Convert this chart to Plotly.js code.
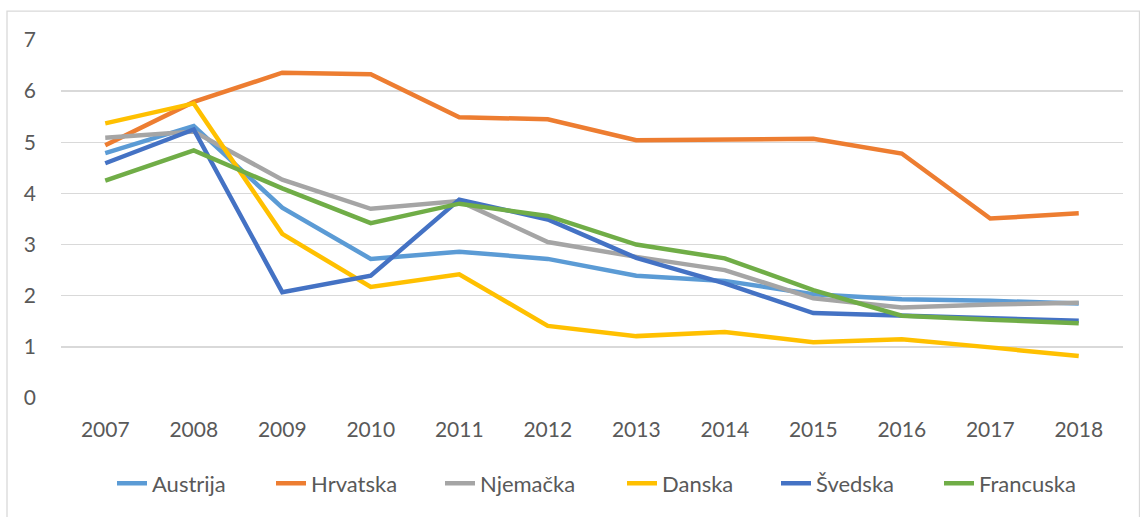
<!DOCTYPE html>
<html>
<head>
<meta charset="utf-8">
<script src="https://cdn.plot.ly/plotly-3.0.1.min.js"></script>
<style>html,body{margin:0;padding:0;background:#fff;}#chart{width:1140px;height:517px;}</style>
</head>
<body>
<div id="chart"></div>
<script>
const years = ['2007','2008','2009','2010','2011','2012','2013','2014','2015','2016','2017','2018'];
const austrija  = [4.79, 5.32, 3.72, 2.72, 2.86, 2.72, 2.39, 2.29, 2.03, 1.93, 1.90, 1.85];
const hrvatska  = [4.94, 5.79, 6.36, 6.33, 5.49, 5.45, 5.04, 5.05, 5.07, 4.78, 3.51, 3.61];
const njemacka  = [5.09, 5.21, 4.27, 3.70, 3.85, 3.05, 2.76, 2.50, 1.95, 1.77, 1.83, 1.86];
const danska    = [5.37, 5.76, 3.21, 2.17, 2.42, 1.41, 1.21, 1.29, 1.09, 1.15, 0.99, 0.82];
const svedska   = [4.59, 5.25, 2.07, 2.39, 3.88, 3.49, 2.74, 2.24, 1.66, 1.61, 1.56, 1.51];
const francuska = [4.25, 4.84, 4.10, 3.42, 3.80, 3.56, 3.00, 2.73, 2.11, 1.61, 1.53, 1.46];

const seriesNames  = ['Austrija','Hrvatska','Njemačka','Danska','Švedska','Francuska'];
const seriesValues = [austrija, hrvatska, njemacka, danska, svedska, francuska];
const seriesColors = ['#5B9BD5','#ED7D31','#A5A5A5','#FFC000','#4472C4','#70AD47'];

// legend entry left edges in pixels (layout only)
const legendPx = [112, 271, 440, 622, 776, 939];
const plotL = 61, plotR = 1123, plotT = 40, plotB = 400;
const pw = plotR - plotL, ph = plotB - plotT;

const FONT = 'Lato, "Open Sans", sans-serif';
const TXT = '#595959';

const traces = seriesNames.map((n, i) => ({
  type: 'scatter', mode: 'lines', name: n,
  x: years, y: seriesValues[i],
  line: {color: seriesColors[i], width: 4.5},
  legend: i === 0 ? 'legend' : 'legend' + (i + 1)
}));

const layout = {
  width: 1140, height: 517,
  margin: {l: plotL, r: 1140 - plotR, t: plotT, b: 517 - plotB},
  paper_bgcolor: '#fff', plot_bgcolor: '#fff',
  font: {family: FONT, size: 21, color: TXT},
  xaxis: {type: 'category', range: [-0.5, 11.5], showgrid: false, zeroline: false, showline: false,
          ticks: '', tickfont: {family: FONT, size: 21, color: TXT}, ticklabelstandoff: 17},
  yaxis: {range: [0, 7], dtick: 1, showgrid: true, gridcolor: '#D9D9D9', gridwidth: 1.3,
          zeroline: false, showline: false, ticks: '', fixedrange: true,
          tickfont: {family: FONT, size: 21, color: TXT}, ticklabelstandoff: 24},
  showlegend: true,
  shapes: [{type: 'rect', xref: 'paper', yref: 'paper',
            x0: (7 - plotL) / pw, x1: (1139.5 - plotL) / pw,
            y0: (plotB - 530) / ph, y1: (plotB - 11) / ph,
            line: {color: '#D9D9D9', width: 1.3}, fillcolor: 'rgba(0,0,0,0)', layer: 'below'}]
};
seriesNames.forEach((n, i) => {
  const key = i === 0 ? 'legend' : 'legend' + (i + 1);
  layout[key] = {x: (legendPx[i] - plotL) / pw, xanchor: 'left',
                 y: (plotB - 486) / ph, yanchor: 'middle',
                 orientation: 'h', bgcolor: 'rgba(0,0,0,0)', borderwidth: 0,
                 font: {family: FONT, size: 22, color: TXT}};
});

Plotly.newPlot('chart', traces, layout, {displayModeBar: false, staticPlot: true});
</script>
</body>
</html>
